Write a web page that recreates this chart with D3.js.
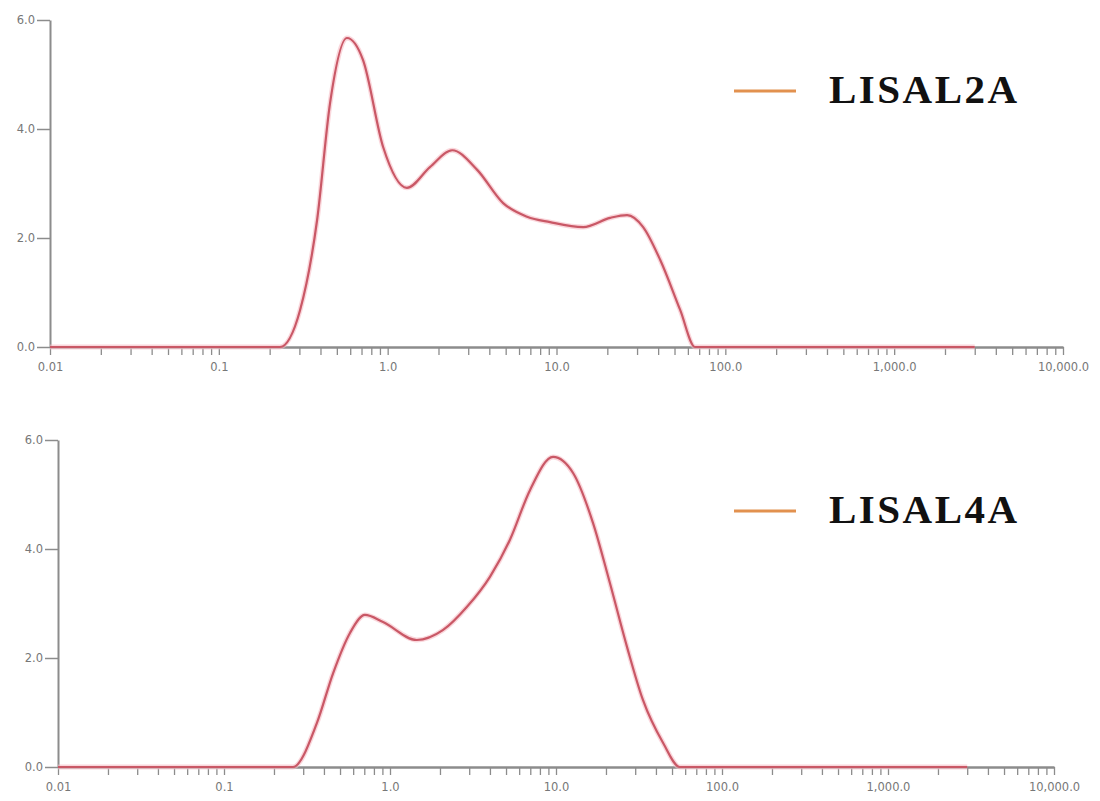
<!DOCTYPE html>
<meta charset="utf-8">
<script src="https://d3js.org/d3.v7.min.js"></script>
<style>
  body { margin: 0; background: #fff; }
  .axis text { font-family: "DejaVu Sans", sans-serif; fill: #777; }
  .axis path, .axis line { stroke: #8c8c8c; }
</style>
<div id="chart"></div>
<script>
// particle size (log axis) and volume values
var sizes2A  = [0.01, 0.23, 0.303, 0.382, 0.456, 0.574, 0.714, 0.94, 1.30, 1.78, 2.41, 3.39, 4.83, 6.70, 9.16, 14.4, 20.8, 26.2, 32.6, 41.1, 54.0, 66.2, 3000];
var values2A = [0,    0,    0.68,  2.33,  4.48,  5.67,  5.27,  3.67, 2.92, 3.30, 3.61, 3.25, 2.64, 2.39, 2.29, 2.20, 2.37, 2.42, 2.20, 1.60, 0.68, 0,    0];

var sizes4A  = [0.01, 0.26, 0.363, 0.454, 0.574, 0.706, 0.908, 1.45, 2.08, 2.91, 4.0, 5.28, 6.97, 9.6, 12.7, 16.7, 21.1, 26.8, 33.4, 44.2, 55.8, 3000];
var values4A = [0,    0,    0.81,  1.72,  2.46,  2.79,  2.66,  2.33, 2.51, 2.94, 3.49, 4.17, 5.08, 5.69, 5.39, 4.48, 3.38, 2.20, 1.23, 0.44, 0,    0];

var xMajor = [0.01, 0.1, 1, 10, 100, 1000, 10000];
var xLabels = ["0.01", "0.1", "1.0", "10.0", "100.0", "1,000.0", "10,000.0"];
var yTicks = [0, 2, 4, 6];

var svg = d3.select("#chart")
  .append("svg")
    .attr("width", 1100)
    .attr("height", 801);

svg.append("rect").attr("width", 1100).attr("height", 801).attr("fill", "#fff");

// all minor ticks 1..9 in each decade
var xTicks = [];
xMajor.slice(0, -1).forEach(function(d) {
  for (var k = 1; k < 10; k++) xTicks.push(d * k);
});
xTicks.push(10000);

function drawPanel(sizes, values, name, left, right, top, bottom) {
  var x = d3.scaleLog().domain([0.01, 10000]).range([left, right]);
  var y = d3.scaleLinear().domain([0, 6]).range([bottom, top]);

  // Y axis
  var ya = svg.append("g")
    .attr("class", "axis")
    .attr("transform", "translate(" + left + ",0)")
    .call(d3.axisLeft(y).tickValues(yTicks).tickFormat(d3.format(".1f")).tickSize(13).tickSizeOuter(0).tickPadding(2));
  ya.selectAll("text").style("font-size", "11.5px");
  ya.select(".domain").attr("stroke-width", 2);
  ya.selectAll(".tick line").attr("stroke-width", 1.5);

  // X axis
  var xa = svg.append("g")
    .attr("class", "axis")
    .attr("transform", "translate(0," + bottom + ")")
    .call(d3.axisBottom(x).tickValues(xTicks).tickSize(8).tickSizeOuter(0).tickPadding(8)
      .tickFormat(function(d) {
        var i = xMajor.findIndex(function(m) { return Math.abs(m - d) / m < 1e-6; });
        return i >= 0 ? xLabels[i] : "";
      }));
  xa.selectAll("text").style("font-size", "11.5px");
  xa.select(".domain").attr("stroke-width", 2.5);
  xa.selectAll(".tick line").attr("stroke-width", 1.3);

  var data = sizes.map(function(s, i) { return {s: s, v: values[i]}; });
  var line = d3.line()
    .x(function(d) { return x(d.s); })
    .y(function(d) { return y(d.v); })
    .curve(d3.curveMonotoneX);

  // soft halo + line
  svg.append("path").datum(data)
    .attr("fill", "none").attr("stroke", "#f6bcc4").attr("stroke-width", 5).attr("opacity", 0.6)
    .attr("d", line);
  svg.append("path").datum(data)
    .attr("fill", "none").attr("stroke", "#c95866").attr("stroke-width", 2.2)
    .attr("d", line);

  // legend
  var ly = top + 71;
  svg.append("line")
    .attr("x1", 734).attr("x2", 796).attr("y1", ly).attr("y2", ly)
    .attr("stroke", "#e2914f").attr("stroke-width", 3);
  svg.append("text")
    .attr("x", 829).attr("y", ly + 12)
    .style("font-family", "'Liberation Serif', 'Times New Roman', serif")
    .style("font-weight", "bold")
    .style("font-size", "41px")
    .style("letter-spacing", "2.5px")
    .attr("fill", "#111")
    .text(name);
}

drawPanel(sizes2A, values2A, "LISAL2A", 50, 1063, 20, 347);
drawPanel(sizes4A, values4A, "LISAL4A", 58, 1054, 440, 767);
</script>
